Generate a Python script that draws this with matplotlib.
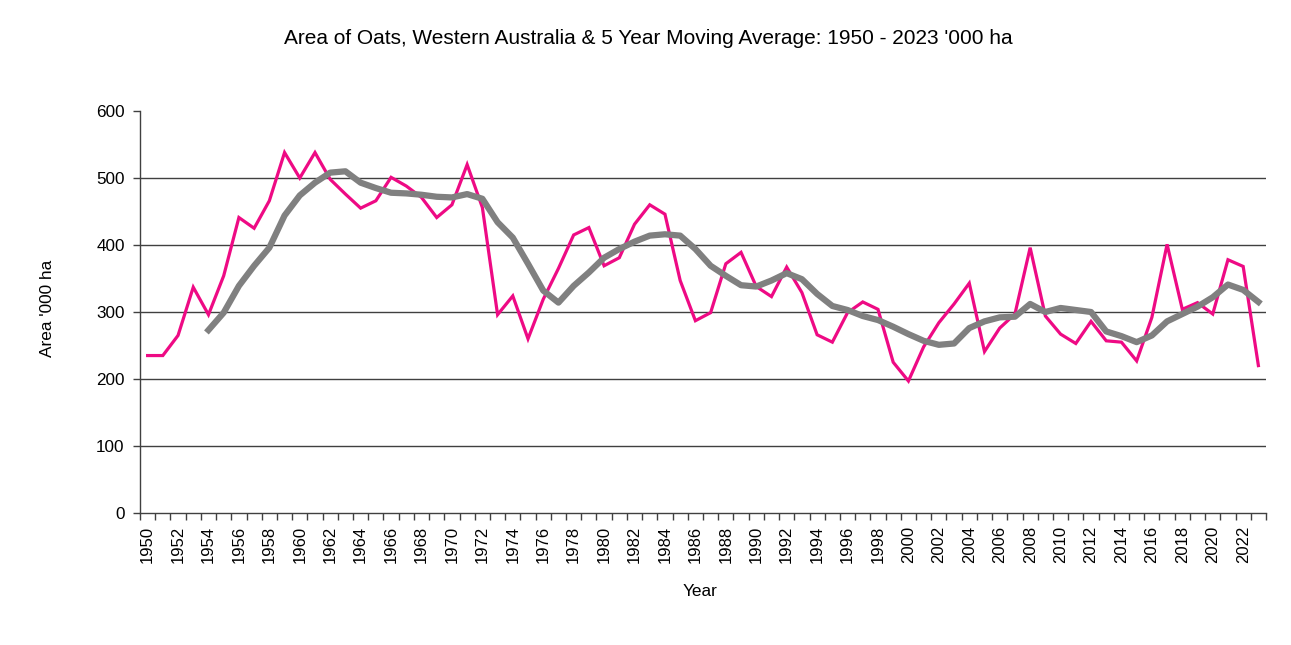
import matplotlib
matplotlib.use("Agg")
import matplotlib.pyplot as plt
import numpy as np

years = list(range(1950, 2024))
area = [235, 235, 265, 337, 296, 354, 441, 425, 466, 538,
        500, 538, 498, 476, 455, 466, 501, 488, 471, 441,
        460, 520, 456, 296, 324, 260, 319, 365, 415, 426,
        369, 381, 431, 460, 446, 347, 287, 299, 372, 389,
        338, 323, 367, 329, 266, 255, 299, 315, 304, 225,
        197, 248, 284, 312, 343, 241, 276, 297, 396, 294,
        267, 253, 286, 257, 255, 227, 292, 401, 304, 314,
        297, 378, 368, 220]
ma_years = list(range(1954, 2024))
moving_avg = [273, 299, 339, 369, 396, 444, 474, 493, 508, 510,
              493, 485, 478, 477, 475, 472, 471, 476, 469, 434,
              411, 372, 332, 314, 339, 359, 381, 394, 405, 414,
              416, 414, 394, 369, 354, 340, 338, 347, 358, 349,
              327, 309, 303, 294, 288, 278, 267, 257, 251, 253,
              276, 286, 292, 293, 312, 300, 306, 303, 300, 271,
              264, 255, 265, 286, 297, 308, 322, 341, 333, 315]

plt.rcParams["font.family"] = ["Liberation Sans", "DejaVu Sans"]

fig = plt.figure(figsize=(12.91, 6.45), dpi=100)
ax = fig.add_axes([140 / 1291, 1 - 513 / 645, 1126 / 1291, 402 / 645])

for v in range(100, 600, 100):
    ax.axhline(v, color="#404040", lw=1.0, zorder=1)

ax.plot(years, area, color="#EE0A84", lw=2.3, zorder=3, solid_joinstyle="miter")
ax.plot(ma_years, moving_avg, color="#808080", lw=4.5, zorder=4)

ax.set_xlim(1949.5, 2023.5)
ax.set_ylim(0, 600)
ax.set_yticks(range(0, 601, 100))
ax.tick_params(axis="y", direction="out", length=5, width=1, color="#404040",
               labelsize=12.3, pad=6)

ax.set_xticks(years[::2])
ax.set_xticklabels([str(y) for y in years[::2]], rotation=90)
ax.set_xticks(np.arange(1949.5, 2024.0, 1.0), minor=True)
ax.tick_params(axis="x", which="major", length=0, labelsize=12, pad=9)
ax.tick_params(axis="x", which="minor", direction="out", length=5, width=1, color="#404040")

for s in ["top", "right"]:
    ax.spines[s].set_visible(False)
for s in ["left", "bottom"]:
    ax.spines[s].set_color("#404040")
    ax.spines[s].set_linewidth(1.0)

fig.text(648 / 1291, 1 - 38 / 645, "Area of Oats, Western Australia & 5 Year Moving Average: 1950 - 2023 '000 ha",
         ha="center", va="center", fontsize=15)
fig.text(47 / 1291, 1 - 308 / 645, "Area '000 ha", rotation=90, ha="center", va="center", fontsize=12.4)
fig.text(700 / 1291, 1 - 591 / 645, "Year", ha="center", va="center", fontsize=12.4)

fig.savefig("out.png", dpi=100)
